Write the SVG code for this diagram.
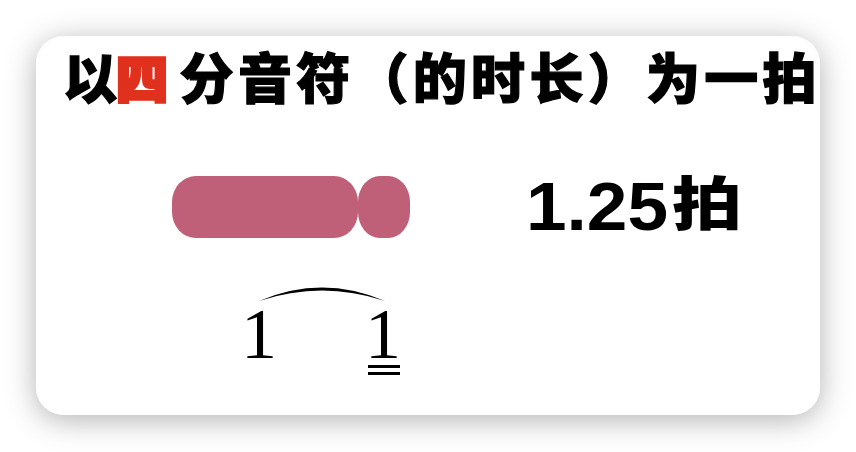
<svg xmlns="http://www.w3.org/2000/svg" width="856" height="452" viewBox="0 0 856 452">
<defs>
<filter id="shadow" x="-15%" y="-20%" width="130%" height="145%">
<feDropShadow dx="0" dy="5" stdDeviation="15" flood-color="#000" flood-opacity="0.3"/>
</filter>
<clipPath id="cardClip"><rect x="36" y="36" width="784" height="379" rx="28"/></clipPath>
</defs>
<style>
.title{font-family:"Noto Sans CJK SC",sans-serif;font-weight:900;font-size:54px;fill:#000;stroke:#000;stroke-width:1.2;}
.hl{fill:#e0301e;stroke:#e0301e;stroke-width:3.5;font-size:52px;}
.bar{fill:#c06078;}
.big{font-family:"Liberation Sans","Noto Sans CJK SC",sans-serif;font-weight:bold;fill:#000;}
.cjk{font-family:"Noto Sans CJK SC",sans-serif;font-weight:900;fill:#000;}
.num{font-family:"Liberation Serif","DejaVu Serif",serif;font-size:72px;fill:#000;}
.line{fill:#000;}
</style>
<rect width="856" height="452" fill="#fff"/>
<g id="card"><rect x="36" y="36" width="784" height="379" rx="28" fill="#fff" filter="url(#shadow)"/></g>
<g id="title" clip-path="url(#cardClip)">
<text class="title" y="99" x="63 116 179.6 237.9 296.2 354.5 412.8 471.1 529.4 587.7 646 704.3 762.6">以<tspan class="hl">四</tspan>分音符（的时长）为一拍</text>
</g>
<g id="duration-bar">
<rect class="bar" x="172" y="176" width="186" height="62" rx="24" ry="26"/>
<rect class="bar" x="358" y="176" width="52" height="62" rx="22" ry="26"/>
</g>
<g id="beats-label">
<text class="big" x="526" y="230" font-size="68" textLength="142" lengthAdjust="spacingAndGlyphs">1.25</text>
<text class="cjk" x="672" y="225" font-size="58" textLength="70" lengthAdjust="spacingAndGlyphs">拍</text>
</g>
<g id="notation">
<text class="num" x="241" y="358">1</text>
<text class="num" x="365" y="358">1</text>
<rect class="line" x="368" y="365" width="32" height="3"/>
<rect class="line" x="368" y="372" width="32" height="3"/>
</g>
<g id="connectors">
<path class="line" d="M 259 301 Q 322 274 385 301 Q 322 280 259 301 Z"/>
</g>
</svg>
